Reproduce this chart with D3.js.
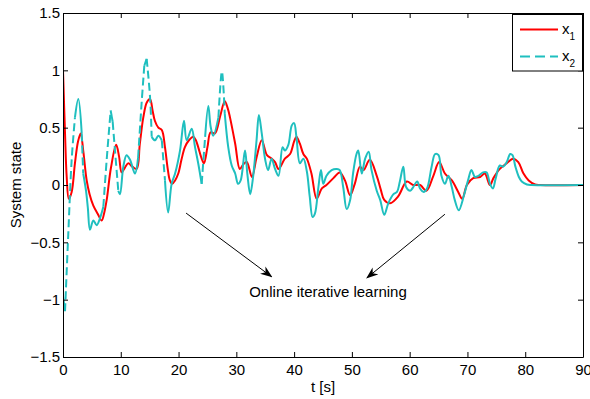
<!DOCTYPE html>
<html>
<head>
<meta charset="utf-8">
<script src="https://cdn.jsdelivr.net/npm/d3@7"></script>
<style>
  body { margin: 0; background: #fff; }
  svg { display: block; font-family: "Liberation Sans", Arial, Helvetica, sans-serif; }
</style>
</head>
<body>
<svg id="chart" width="590" height="399"></svg>
<script>
// [t, value]
const x1Points = [
  [0, 1.0], [0.35, 0.45], [0.64, 0.07], [1.0, -0.12], [1.5, -0.06], [2.07, 0.19], [2.6, 0.38],
  [3.06, 0.45], [3.5, 0.3], [4.1, 0.04], [4.6, -0.08], [5.25, -0.18], [6.0, -0.25], [6.7, -0.31],
  [7.1, -0.25], [7.56, -0.13], [8.3, 0.15], [9.2, 0.35], [9.7, 0.25], [10.15, 0.11], [10.7, 0.15],
  [11.3, 0.19], [12.0, 0.16], [12.75, 0.14], [13.3, 0.36], [13.9, 0.59], [14.5, 0.72], [15.06, 0.75],
  [15.5, 0.65], [15.9, 0.56], [16.5, 0.5], [17.1, 0.48], [17.65, 0.33], [18.1, 0.15], [18.5, 0.04],
  [18.9, 0.01], [19.4, 0.04], [19.95, 0.10], [20.5, 0.22], [21.1, 0.33], [21.8, 0.39], [22.55, 0.42],
  [23.0, 0.39], [23.4, 0.33], [24.0, 0.23], [24.4, 0.19], [25.0, 0.33], [25.55, 0.46], [26.3, 0.45],
  [27.2, 0.6], [28.0, 0.73], [28.5, 0.67], [28.9, 0.59], [29.8, 0.36], [30.6, 0.14], [31.2, 0.18],
  [31.8, 0.2], [32.7, 0.07], [33.5, 0.24], [34.4, 0.39], [35.3, 0.26], [36.1, 0.23], [36.7, 0.2],
  [37.3, 0.14], [38.4, 0.23], [39.3, 0.27], [40.0, 0.38], [40.4, 0.42], [41.0, 0.36], [41.6, 0.27],
  [42.2, 0.23], [43.0, 0.10], [43.9, -0.12], [44.8, -0.03], [45.6, 0.0], [46.8, 0.06], [47.9, 0.11],
  [48.8, 0.04], [49.7, -0.09], [50.5, 0.01], [51.4, 0.16], [52.0, 0.13], [53.1, 0.22], [54.3, 0.08],
  [55.0, -0.04], [55.6, -0.13], [56.6, -0.16], [58.0, -0.10], [59.5, 0.03], [60.6, 0.0], [61.8, 0.0],
  [62.9, -0.05], [64.1, 0.08], [65.1, 0.2], [66.1, 0.1], [67.3, 0.04], [68.4, -0.06], [69.1, -0.12],
  [69.9, 0.0], [71.0, 0.06], [72.2, 0.07], [73.0, 0.10], [73.9, 0.0], [74.5, 0.06], [75.6, 0.14],
  [76.8, 0.19], [77.9, 0.23], [78.8, 0.2], [79.7, 0.1], [80.6, 0.04], [81.7, 0.005], [82.6, 0], [90, 0]
];

const x2Points = [
  [0, -0.97], [0.35, -1.1], [0.92, -0.42], [1.5, 0.22], [2.07, 0.59], [2.65, 0.75], [3.24, 0.45],
  [3.5, 0.1], [3.98, -0.05], [4.3, -0.2], [4.67, -0.39], [5.25, -0.31], [5.83, -0.35], [6.4, -0.29],
  [6.98, -0.19], [7.56, 0.22], [8.25, 0.65], [8.6, 0.55], [9.0, 0.30], [9.57, -0.05], [9.86, -0.08],
  [10.44, 0.16], [11.0, 0.26], [11.6, 0.22], [12.46, 0.1], [13.0, 0.24], [13.6, 0.71], [14.07, 1.04],
  [14.48, 1.10], [15.06, 0.77], [15.35, 0.42], [15.92, 0.39], [16.5, 0.43], [17.1, 0.39], [17.65, 0.04],
  [18.2, -0.24], [18.8, 0.01], [19.4, 0.1], [20.25, 0.30], [20.94, 0.56], [21.4, 0.39], [22.27, 0.49],
  [22.85, 0.33], [23.4, 0.19], [24.0, 0.01], [24.6, 0.42], [25.15, 0.69], [25.55, 0.51], [26.0, 0.43],
  [26.9, 0.59], [27.5, 0.99], [28.0, 0.62], [28.6, 0.33], [29.2, 0.17], [29.8, 0.1], [30.3, 0.01],
  [30.75, 0.04], [31.5, 0.3], [31.9, 0.1], [32.4, -0.08], [32.9, 0.07], [33.5, 0.39], [33.9, 0.61],
  [34.4, 0.45], [35.0, 0.22], [35.5, 0.13], [36.1, 0.23], [36.7, 0.14], [37.3, 0.08], [38.0, 0.33],
  [38.4, 0.30], [39.0, 0.35], [39.6, 0.52], [40.0, 0.54], [40.4, 0.42], [41.0, 0.19], [41.6, 0.23],
  [42.2, 0.12], [42.7, -0.1], [43.2, -0.28], [43.6, -0.25], [44.2, -0.02], [44.65, 0.13], [45.05, 0.01],
  [45.6, 0.08], [46.5, 0.13], [47.4, 0.14], [47.9, 0.13], [48.5, -0.02], [49.1, -0.21], [49.7, -0.13],
  [50.2, 0.1], [50.8, 0.27], [51.1, 0.3], [51.7, 0.1], [52.3, 0.23], [52.9, 0.29], [53.4, 0.13],
  [54.3, -0.05], [54.9, -0.13], [55.6, -0.26], [56.3, -0.16], [57.2, -0.08], [57.8, -0.06], [58.3, 0.03],
  [58.9, 0.16], [59.4, -0.02], [60.1, -0.05], [60.6, -0.02], [61.3, 0.03], [61.8, -0.03], [62.4, -0.06],
  [63.0, -0.03], [63.8, 0.16], [64.4, 0.27], [65.0, 0.26], [65.5, 0.08], [66.1, 0.01], [66.7, 0.08],
  [67.3, -0.02], [67.8, -0.13], [68.5, -0.22], [69.4, -0.09], [70.1, 0.04], [70.7, 0.13], [71.3, 0.07],
  [71.9, 0.08], [72.7, 0.11], [73.3, 0.11], [73.9, 0.01], [74.4, -0.03], [74.9, 0.06], [75.6, 0.17],
  [76.2, 0.16], [76.8, 0.2], [77.4, 0.27], [77.8, 0.26], [78.3, 0.16], [78.9, 0.07], [79.4, 0.03],
  [80.3, 0.005], [81.1, 0], [90, 0]
];

const xTicks = [0, 10, 20, 30, 40, 50, 60, 70, 80, 90];
const yTicks = [-1.5, -1, -0.5, 0, 0.5, 1, 1.5];
const legendLabels = ["1", "2"]; // subscripts of x
const annotation = "Online iterative learning";
// arrows: [from t, from value, to t, to value]
const arrows = [[21.3, -0.245, 36.1, -0.8], [66.1, -0.255, 52.6, -0.81]];

const width = 590, height = 399;
const margin = { top: 13, right: 7, bottom: 42, left: 63 };
const red = "#ff0000", cyan = "#1fbfbf";

const x = d3.scaleLinear().domain([0, 90]).range([margin.left, width - margin.right]);
const y = d3.scaleLinear().domain([-1.5, 1.5]).range([height - margin.bottom, margin.top]);
const fmt = d3.format("~g");

const svg = d3.select("#chart");

svg.append("defs").append("marker")
  .attr("id", "head")
  .attr("viewBox", "0 0 12 10")
  .attr("refX", 11).attr("refY", 5)
  .attr("markerWidth", 12).attr("markerHeight", 10)
  .attr("markerUnits", "userSpaceOnUse")
  .attr("orient", "auto")
  .append("path")
  .attr("d", "M0,0.5 L12,5 L0,9.5 L3.5,5 Z")
  .attr("fill", "#000");

svg.append("defs").append("clipPath").attr("id", "clip")
  .append("rect")
  .attr("x", margin.left).attr("y", margin.top)
  .attr("width", width - margin.left - margin.right)
  .attr("height", height - margin.top - margin.bottom);

const line = d3.line()
  .x(d => x(d[0]))
  .y(d => y(d[1]))
  .curve(d3.curveCatmullRom.alpha(0.5));

const plot = svg.append("g").attr("clip-path", "url(#clip)");

plot.append("path")
  .attr("d", line(x1Points))
  .attr("fill", "none")
  .attr("stroke", red)
  .attr("stroke-width", 2)
  .attr("stroke-linejoin", "round");

// dashed style only shows where the segments are long (steep parts)
function splitRuns(points) {
  const runs = [];
  let cur = null;
  for (let i = 1; i < points.length; i++) {
    const a = points[i - 1], b = points[i];
    const steep = Math.abs(y(b[1]) - y(a[1])) > 11 * Math.abs(x(b[0]) - x(a[0]));
    if (!cur || cur.steep !== steep) {
      cur = { steep, pts: [a] };
      runs.push(cur);
    }
    cur.pts.push(b);
  }
  return runs;
}

plot.selectAll(".x2run")
  .data(splitRuns(x2Points))
  .enter().append("path")
  .attr("class", "x2run")
  .attr("d", d => line(d.pts))
  .attr("fill", "none")
  .attr("stroke", cyan)
  .attr("stroke-width", 2)
  .attr("stroke-linejoin", "round")
  .attr("stroke-dasharray", d => d.steep ? "8,4" : null);

// axes (box with inward ticks)
function styleAxis(g) {
  g.attr("font-family", null).attr("font-size", 15);
  g.selectAll("path, line").attr("stroke", "#000");
}

svg.append("g")
  .attr("transform", `translate(0,${y(-1.5)})`)
  .call(d3.axisBottom(x).tickValues(xTicks).tickFormat(fmt).tickSizeInner(-5).tickSizeOuter(0).tickPadding(7))
  .call(styleAxis);

svg.append("g")
  .attr("transform", `translate(0,${y(1.5)})`)
  .call(d3.axisTop(x).tickValues(xTicks).tickFormat("").tickSizeInner(-5).tickSizeOuter(0))
  .call(styleAxis);

svg.append("g")
  .attr("transform", `translate(${x(0)},0)`)
  .call(d3.axisLeft(y).tickValues(yTicks).tickFormat(fmt).tickSizeInner(-5).tickSizeOuter(0).tickPadding(3))
  .call(styleAxis);

svg.append("g")
  .attr("transform", `translate(${x(90)},0)`)
  .call(d3.axisRight(y).tickValues(yTicks).tickFormat("").tickSizeInner(-5).tickSizeOuter(0))
  .call(styleAxis);

// axis titles
svg.append("text")
  .attr("x", (x(0) + x(90)) / 2).attr("y", 392)
  .attr("text-anchor", "middle").attr("font-size", 15)
  .text("t [s]");

svg.append("text")
  .attr("transform", `translate(21,${(y(-1.5) + y(1.5)) / 2}) rotate(-90)`)
  .attr("text-anchor", "middle").attr("font-size", 15)
  .text("System state");

// annotation
svg.selectAll(".arrow")
  .data(arrows)
  .enter().append("line")
  .attr("class", "arrow")
  .attr("x1", d => x(d[0])).attr("y1", d => y(d[1]))
  .attr("x2", d => x(d[2])).attr("y2", d => y(d[3]))
  .attr("stroke", "#000").attr("stroke-width", 1)
  .attr("marker-end", "url(#head)");

svg.append("text")
  .attr("x", 328).attr("y", 297)
  .attr("text-anchor", "middle").attr("font-size", 15)
  .text(annotation);

// legend
const legend = svg.append("g");
legend.append("rect")
  .attr("x", 512.5).attr("y", 14.5)
  .attr("width", 70).attr("height", 56.5)
  .attr("fill", "#fff").attr("stroke", "#000");

const entries = legend.selectAll(".entry")
  .data(legendLabels)
  .enter().append("g")
  .attr("transform", (d, i) => `translate(0,${29.5 + i * 27})`);

entries.append("line")
  .attr("x1", 520).attr("x2", 558)
  .attr("stroke", (d, i) => i === 0 ? red : cyan)
  .attr("stroke-width", 2)
  .attr("stroke-dasharray", (d, i) => i === 0 ? null : "10,5");

const lt = entries.append("text")
  .attr("x", 562).attr("y", 4)
  .attr("font-size", 15)
  .text("x");
lt.append("tspan")
  .attr("dy", 6.5).attr("font-size", 10)
  .text(d => d);
</script>
</body>
</html>
